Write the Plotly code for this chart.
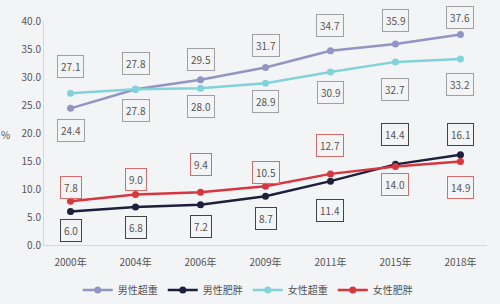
import plotly.graph_objects as go

years = ["2000年", "2004年", "2006年", "2009年", "2011年", "2015年", "2018年"]
male_over = [24.4, 27.8, 29.5, 31.7, 34.7, 35.9, 37.6]
male_obese = [6.0, 6.8, 7.2, 8.7, 11.4, 14.4, 16.1]
female_over = [27.1, 27.8, 28.0, 28.9, 30.9, 32.7, 33.2]
female_obese = [7.8, 9.0, 9.4, 10.5, 12.7, 14.0, 14.9]

# label placement (px offset from point, negative = above)
pos_male_over = [22, -26, -20, -22, -25, -23, -17]
pos_male_obese = [19, 21, 22, 22, 29, -30, -20]
pos_female_over = [-27, 21, 18, 18, 21, 28, 25]
pos_female_obese = [-14, -15, -28, -14, -28, 18, 26]

series = [
    ("男性超重", male_over, "#9295c4", "#a0a0a0", pos_male_over),
    ("男性肥胖", male_obese, "#1d1f3d", "#444444", pos_male_obese),
    ("女性超重", female_over, "#82d2db", "#a0a0a0", pos_female_over),
    ("女性肥胖", female_obese, "#d8363f", "#d86a6a", pos_female_obese),
]

font_family = "Noto Sans CJK SC, Open Sans, sans-serif"
fig = go.Figure()
annotations = []
for name, vals, color, bcolor, offs in series:
    fig.add_trace(go.Scatter(
        x=years, y=vals, name=name, mode="lines+markers",
        line=dict(color=color, width=2.5),
        marker=dict(color=color, size=7),
    ))
    for x, v, o in zip(years, vals, offs):
        annotations.append(dict(
            x=x, y=v, xref="x", yref="y", text=f"{v:.1f}", showarrow=False,
            yshift=-o, bordercolor=bcolor, borderwidth=1, borderpad=3,
            bgcolor="rgba(0,0,0,0)",
            font=dict(size=10, color="#555555", family=font_family),
        ))

annotations.append(dict(
    x=-0.088, y=0.495, xref="paper", yref="paper", text="%", showarrow=False,
    xanchor="center", yanchor="middle",
    font=dict(size=10, color="#555555", family=font_family),
))

fig.update_layout(
    width=500, height=304,
    margin=dict(l=44, r=13, t=21, b=59, autoexpand=False),
    paper_bgcolor="#f3f4f6", plot_bgcolor="#f3f4f6",
    font=dict(family=font_family, size=10, color="#555555"),
    showlegend=True,
    legend=dict(orientation="h", x=0.46, xanchor="center", yref="container",
                y=0.046, yanchor="middle",
                font=dict(size=10, color="#555555"), itemwidth=30, traceorder="normal"),
    annotations=annotations,
    xaxis=dict(showgrid=False, showline=True, linecolor="#d8d8d8", linewidth=1,
               ticks="", ticklabelstandoff=8, tickfont=dict(size=10, color="#555555")),
    yaxis=dict(range=[0, 40], dtick=5, tickformat=".1f", showgrid=False,
               showline=True, linecolor="#d8d8d8", linewidth=1, zeroline=False,
               ticks="", tickfont=dict(size=10, color="#555555")),
)

fig.write_html("out.html")
